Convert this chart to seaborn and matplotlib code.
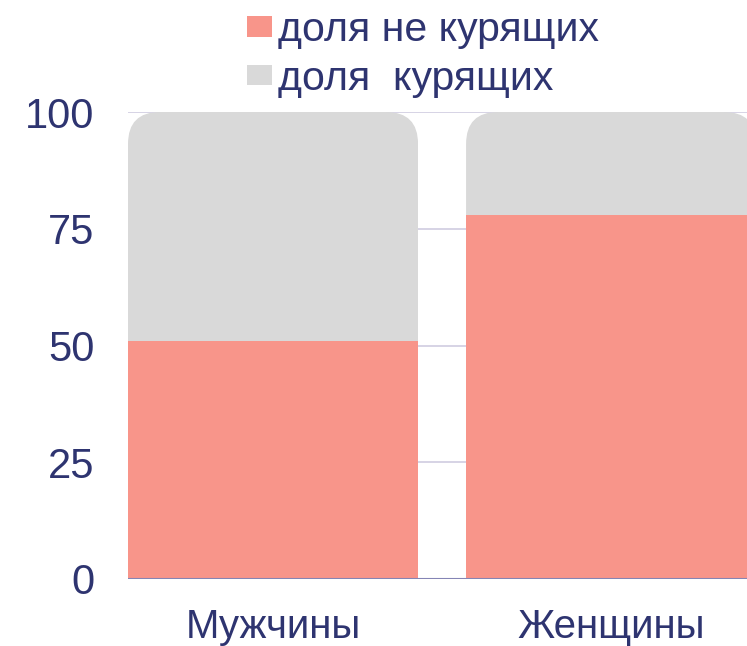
import matplotlib
matplotlib.use("Agg")
import matplotlib.pyplot as plt
import seaborn as sns
import pandas as pd
from matplotlib.patches import FancyBboxPatch, Patch

groups = ['Мужчины', 'Женщины']
non_smokers = [51, 78]
smokers = [49, 22]
labels = ['доля не курящих', 'доля  курящих']

pink = '#f8958a'
grey = '#d9d9d9'
text_col = '#2e3470'

sns.set_style('white')
plt.rcParams['font.family'] = ['Liberation Sans', 'DejaVu Sans']

df = pd.DataFrame({'group': groups,
                   'total': [a + b for a, b in zip(non_smokers, smokers)],
                   'non': non_smokers})

fig = plt.figure(figsize=(7.47, 6.46), dpi=100)
ax = fig.add_axes([128 / 747, (646 - 579) / 646, (747 - 128) / 747, (579 - 112) / 646])

# gridlines
for v in [25, 50, 75, 100]:
    ax.axhline(v, color='#d0cce0', lw=1.2, zorder=0)

sns.barplot(data=df, x='group', y='total', color=grey, width=0.858,
            saturation=1, linewidth=0, ax=ax, zorder=2)
top_bars = list(ax.patches)
sns.barplot(data=df, x='group', y='non', color=pink, width=0.858,
            saturation=1, linewidth=0, ax=ax, zorder=3)

ax.set_xlim(-0.429, 1.402)
ax.set_ylim(0, 100)

# rounded top corners on the stacked bars
px_x = 338.0
px_y = 4.67
radius = 32
for b in top_bars:
    clip = FancyBboxPatch((b.get_x(), -30), b.get_width(), 130,
                          boxstyle='round,pad=0,rounding_size=%f' % (radius / px_x),
                          mutation_aspect=px_x / px_y,
                          transform=ax.transData, facecolor='none', edgecolor='none')
    ax.add_patch(clip)
    b.set_clip_path(clip)

ax.axhline(0, color='#8585b5', lw=1.5, zorder=4)

ax.set_yticks([0, 25, 50, 75, 100])
ax.tick_params(axis='y', labelsize=30, labelcolor=text_col, length=0, pad=24)
ax.tick_params(axis='x', labelsize=29, labelcolor=text_col, length=0, pad=21)
ax.set_xlabel('')
ax.set_ylabel('')
sns.despine(ax=ax, left=True, bottom=True, top=True, right=True)

handles = [Patch(facecolor=pink, edgecolor='none'), Patch(facecolor=grey, edgecolor='none')]
fig.legend(handles, labels, loc='upper left', bbox_to_anchor=(227 / 747, 1.014),
           frameon=False, fontsize=29.5, labelcolor=text_col,
           handlelength=0.6, handleheight=0.4, handletextpad=0.15,
           labelspacing=0.25, borderaxespad=0.1)

fig.savefig('out.png', dpi=100)
